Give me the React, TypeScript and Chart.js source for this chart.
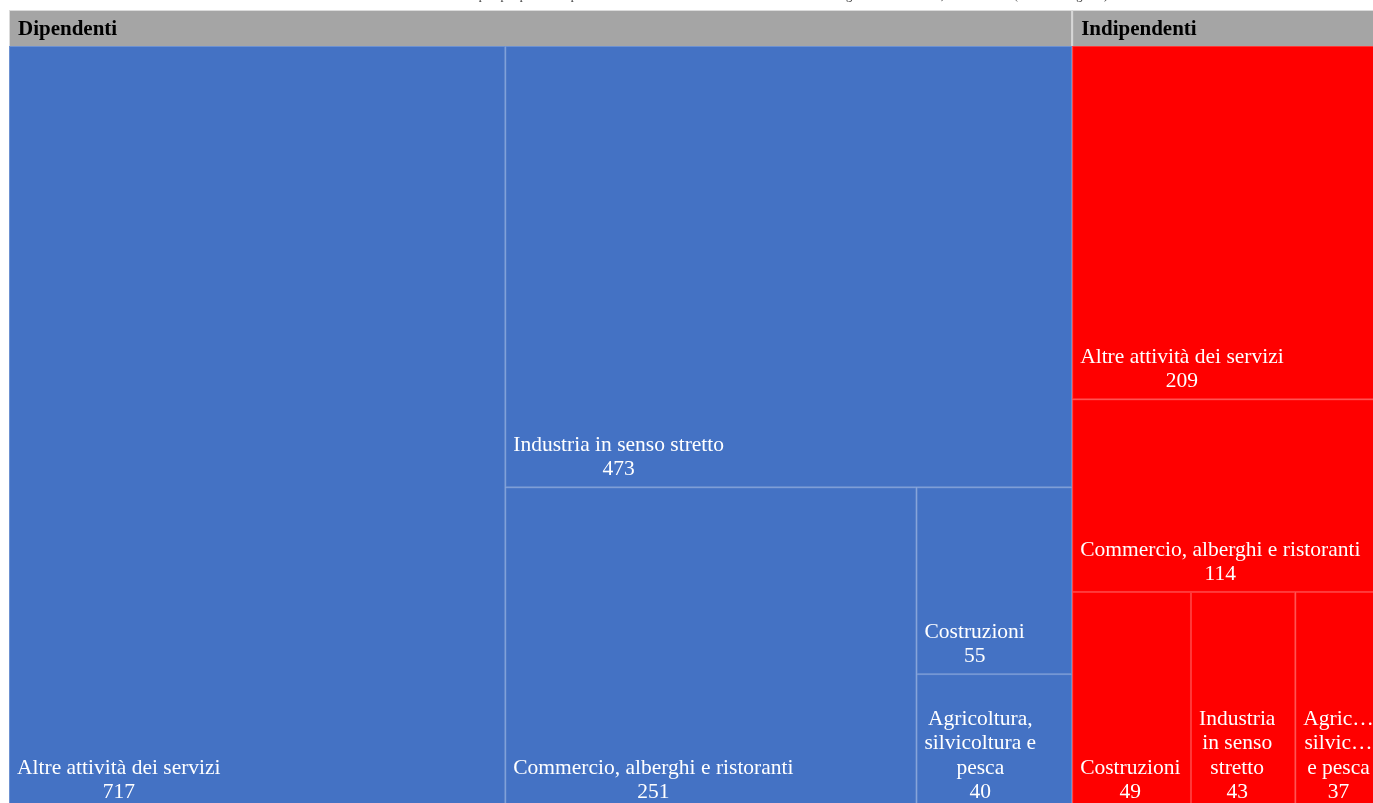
import { useEffect, useRef } from "react";
import { Chart, registerables } from "chart.js";

Chart.register(...registerables);

const titleText =
  "Tavola 4.3 – Mercato del lavoro. Occupati per posizione professionale e settore di attività economica nel Mezzogiorno. Anno 2023, media annua (valori in migliaia)";

const groupNames = ["Dipendenti", "Indipendenti"];
const groupColors = ["#4472C4", "#FF0000"];

const dipendentiLabels = [
  "Altre attività dei servizi",
  "Industria in senso stretto",
  "Commercio, alberghi e ristoranti",
  "Costruzioni",
  "Agricoltura, silvicoltura e pesca",
];
const dipendentiValues = [717, 473, 251, 55, 40];

const indipendentiLabels = [
  "Altre attività dei servizi",
  "Commercio, alberghi e ristoranti",
  "Costruzioni",
  "Industria in senso stretto",
  "Agricoltura, silvicoltura e pesca",
];
const indipendentiValues = [209, 114, 49, 43, 37];

const groupLabels = [dipendentiLabels, indipendentiLabels];
const groupValues = [dipendentiValues, indipendentiValues];

type Item = { value: number; index: number };
type Rect = { x: number; y: number; w: number; h: number };
type Cell = Rect & { index: number };

const sumOf = (a: Item[]) => a.reduce((s, it) => s + it.value, 0);

function layout(items: Item[], rect: Rect, out: Cell[]) {
  if (items.length === 0) return;
  if (items.length === 1) {
    out.push({ ...rect, index: items[0].index });
    return;
  }
  const total = sumOf(items);
  let best = 1;
  let bestDiff = Infinity;
  let acc = 0;
  for (let k = 1; k < items.length; k++) {
    acc += items[k - 1].value;
    const d = Math.abs(total - 2 * acc);
    if (d < bestDiff) {
      bestDiff = d;
      best = k;
    }
  }
  const a = items.slice(0, best);
  const b = items.slice(best);
  const fa = sumOf(a) / total;
  if (rect.w >= 0.85 * rect.h) {
    const wa = rect.w * fa;
    layout(a, { x: rect.x, y: rect.y, w: wa, h: rect.h }, out);
    layout(b, { x: rect.x + wa, y: rect.y, w: rect.w - wa, h: rect.h }, out);
  } else {
    const ha = rect.h * fa;
    layout(a, { x: rect.x, y: rect.y, w: rect.w, h: ha }, out);
    layout(b, { x: rect.x, y: rect.y + ha, w: rect.w, h: rect.h - ha }, out);
  }
}

function fitText(ctx: CanvasRenderingContext2D, s: string, maxW: number) {
  if (ctx.measureText(s).width <= maxW) return s;
  let t = s;
  while (t.length > 1 && ctx.measureText(t + "…").width > maxW) t = t.slice(0, -1);
  return t + "…";
}

function wrapText(ctx: CanvasRenderingContext2D, text: string, maxW: number) {
  const words = text.split(" ");
  const lines: string[] = [];
  let cur = "";
  for (const w of words) {
    const t = cur ? cur + " " + w : w;
    if (!cur || ctx.measureText(t).width <= maxW) cur = t;
    else {
      lines.push(cur);
      cur = w;
    }
  }
  if (cur) lines.push(cur);
  return lines.map((l) => fitText(ctx, l, maxW));
}

const HEADER_H = 36;
const FONT_FAMILY = '"Liberation Serif", "Times New Roman", serif';

const treemapPlugin = {
  id: "treemapCells",
  beforeDatasetsDraw(chart: any) {
    const ctx: CanvasRenderingContext2D = chart.ctx;
    const xs = chart.scales.x;
    const ys = chart.scales.y;
    const top = ys.getPixelForValue(1);
    const bottom = ys.getPixelForValue(0);
    const totals = groupValues.map((v) => v.reduce((s, n) => s + n, 0));
    let start = 0;
    groupNames.forEach((name, g) => {
      const gx0 = xs.getPixelForValue(start);
      const gx1 = xs.getPixelForValue(start + totals[g]);
      start += totals[g];
      const gw = gx1 - gx0;

      // header
      ctx.save();
      ctx.fillStyle = "#A5A5A5";
      ctx.fillRect(gx0, top, gw, HEADER_H);
      ctx.strokeStyle = "rgba(225,225,225,0.9)";
      ctx.lineWidth = 1;
      ctx.strokeRect(gx0 + 0.5, top + 0.5, gw - 1, HEADER_H);
      ctx.beginPath();
      ctx.rect(gx0, top, gw, HEADER_H);
      ctx.clip();
      ctx.fillStyle = "#000000";
      ctx.font = `bold 21px ${FONT_FAMILY}`;
      ctx.textAlign = "left";
      ctx.textBaseline = "middle";
      ctx.fillText(name, gx0 + 9, top + HEADER_H / 2 + 2);
      ctx.restore();

      // cells
      const items: Item[] = groupValues[g]
        .map((value, index) => ({ value, index }))
        .sort((p, q) => q.value - p.value);
      const cells: Cell[] = [];
      layout(items, { x: gx0, y: top + HEADER_H, w: gw, h: bottom - top - HEADER_H }, cells);

      cells.forEach((c) => {
        ctx.save();
        ctx.fillStyle = groupColors[g];
        ctx.fillRect(c.x, c.y, c.w, c.h);
        ctx.strokeStyle = "rgba(255,255,255,0.22)";
        ctx.lineWidth = 1;
        ctx.strokeRect(c.x + 0.5, c.y + 0.5, c.w - 1, c.h - 1);
        ctx.beginPath();
        ctx.rect(c.x, c.y, c.w, c.h);
        ctx.clip();
        ctx.font = `21.5px ${FONT_FAMILY}`;
        ctx.fillStyle = "#FFFFFF";
        ctx.textAlign = "center";
        ctx.textBaseline = "middle";
        const lines = wrapText(ctx, groupLabels[g][c.index], c.w - 16);
        lines.push(String(groupValues[g][c.index]));
        const bw = Math.max(...lines.map((l) => ctx.measureText(l).width));
        const cx = c.x + 8 + bw / 2;
        const lineH = 24.5;
        const lastY = c.y + c.h - 17.5;
        lines.forEach((l, i) => {
          ctx.fillText(l, cx, lastY - (lines.length - 1 - i) * lineH);
        });
        ctx.restore();
      });
    });
  },
};

export default function App() {
  const canvasRef = useRef<HTMLCanvasElement | null>(null);

  useEffect(() => {
    if (!canvasRef.current) return;
    const total = groupValues.flat().reduce((s, n) => s + n, 0);
    const chart = new Chart(canvasRef.current, {
      type: "scatter",
      data: { datasets: [{ data: [] }] },
      options: {
        responsive: false,
        animation: false,
        layout: { padding: { left: 9, right: 10, top: 0, bottom: 10 } },
        scales: {
          x: { type: "linear", display: false, min: 0, max: total },
          y: { type: "linear", display: false, min: 0, max: 1 },
        },
        plugins: {
          legend: { display: false },
          tooltip: { enabled: false },
          title: {
            display: true,
            text: titleText,
            color: "#404040",
            font: { family: FONT_FAMILY, size: 12.5, weight: "normal" },
            padding: { top: 28.25, bottom: 6.75 },
          },
        },
      },
      plugins: [treemapPlugin],
    } as any);
    return () => chart.destroy();
  }, []);

  return (
    <div
      style={{
        position: "fixed",
        left: 0,
        top: 0,
        width: "100vw",
        height: "100vh",
        overflow: "hidden",
        background: "#ffffff",
      }}
    >
      <canvas
        ref={canvasRef}
        width={1395}
        height={860}
        style={{ position: "absolute", left: 0, top: -40, display: "block" }}
      />
    </div>
  );
}
